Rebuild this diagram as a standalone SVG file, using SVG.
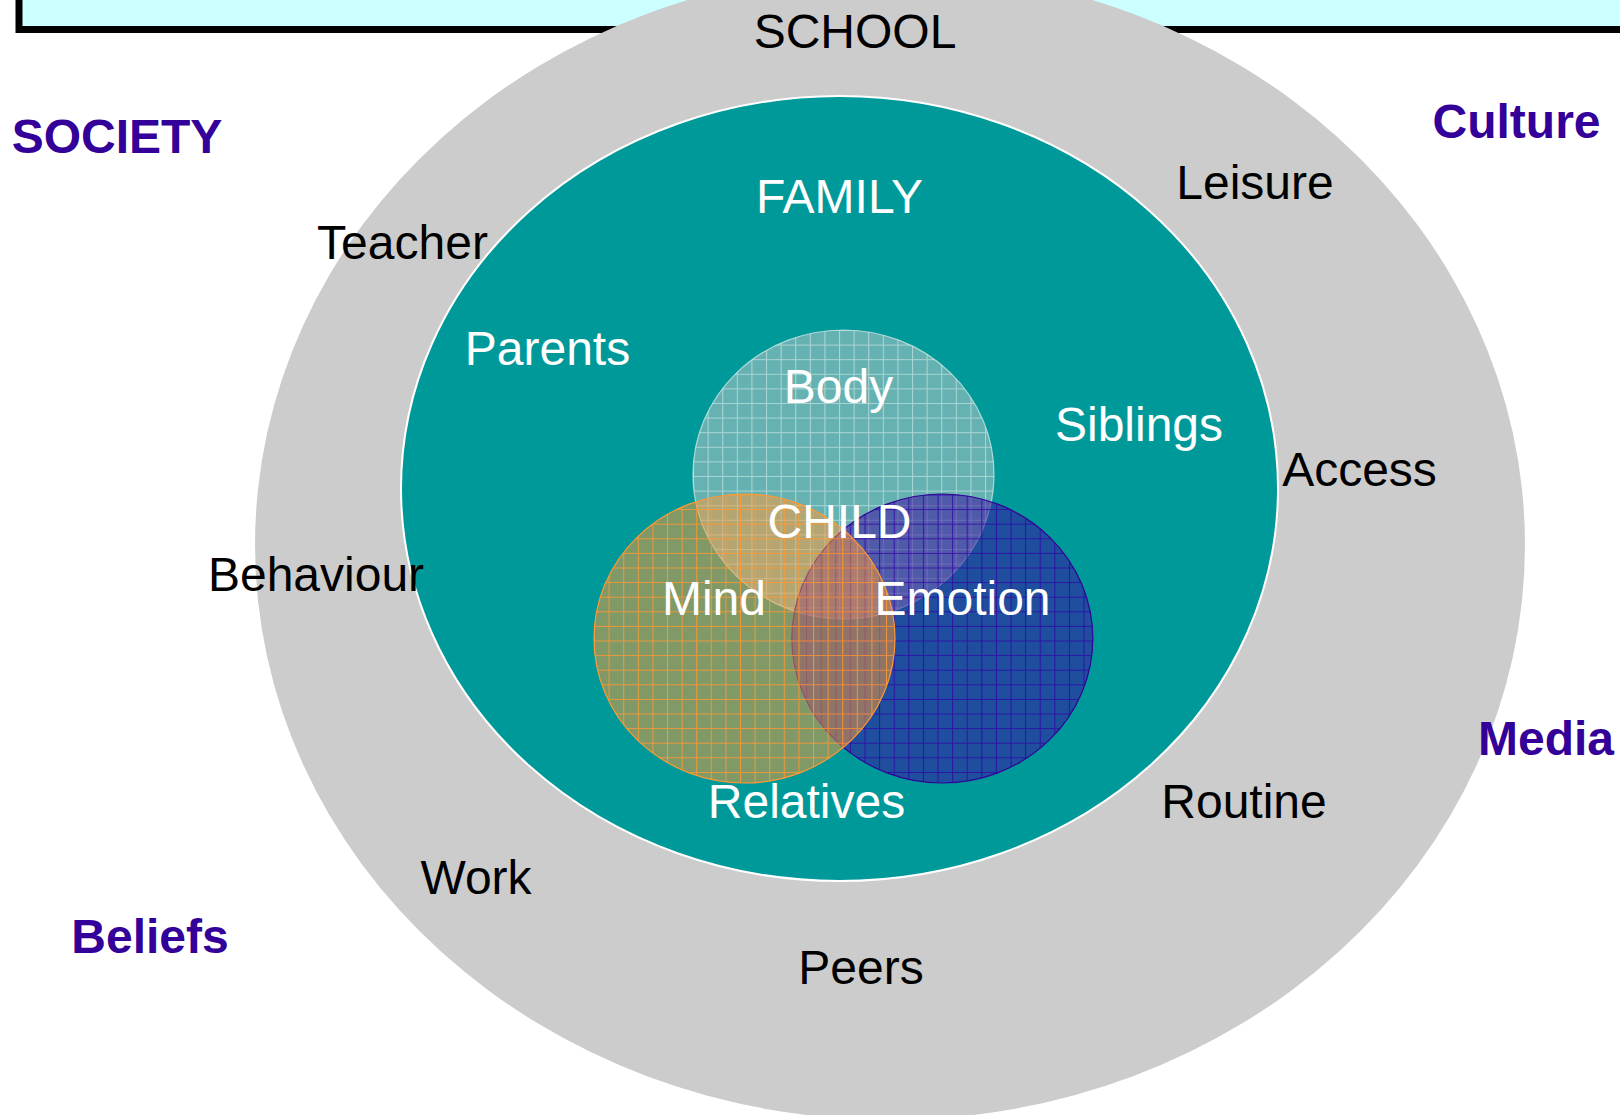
<svg xmlns="http://www.w3.org/2000/svg" width="1620" height="1115" viewBox="0 0 1620 1115">
  <defs>
    <style>
      text { font-family: "Liberation Sans", Arial, sans-serif; font-size: 48px; text-anchor: middle; }
      .outer { fill: #000000; }
      .inner { fill: #FFFFFF; }
      .ctx { fill: #330099; font-weight: bold; }
    </style>
    <!-- grid textures, one per circle, aligned to each circle's bounding box -->
    <pattern id="gridBody" patternUnits="userSpaceOnUse" x="693" y="330" width="14.6" height="14.6">
      <path d="M0 0.5 H14.6 M0.5 0 V14.6" stroke="#FFFFFF" stroke-opacity="0.45" stroke-width="1.1" fill="none"/>
    </pattern>
    <pattern id="gridMind" patternUnits="userSpaceOnUse" x="594" y="494.5" width="14.6" height="14.6">
      <path d="M0 0.5 H14.6 M0.5 0 V14.6" stroke="#FF9933" stroke-opacity="0.85" stroke-width="1.1" fill="none"/>
    </pattern>
    <pattern id="gridEmotion" patternUnits="userSpaceOnUse" x="791.5" y="494.5" width="14.6" height="14.6">
      <path d="M0 0.5 H14.6 M0.5 0 V14.6" stroke="#3300AA" stroke-opacity="0.75" stroke-width="1.1" fill="none"/>
    </pattern>
  </defs>

  <rect width="1620" height="1115" fill="#FFFFFF"/>

  <!-- title banner behind the rings -->
  <rect id="banner" x="19" y="-60" width="1700" height="89.5" fill="#CCFFFF" stroke="#000000" stroke-width="7"/>

  <g id="school">
    <ellipse cx="890" cy="545" rx="635" ry="575" fill="#CCCCCC"/>
  </g>

  <g id="family">
    <ellipse cx="839.5" cy="488.5" rx="438.5" ry="392.5" fill="#009999" stroke="#FFFFFF" stroke-width="2"/>
  </g>

  <g id="body">
    <ellipse cx="843.5" cy="474.5" rx="150.5" ry="144.5" fill="#CCCCCC" fill-opacity="0.5"/>
    <ellipse cx="843.5" cy="474.5" rx="150.5" ry="144.5" fill="url(#gridBody)" stroke="#E0EEEE" stroke-opacity="0.7" stroke-width="1.2"/>
  </g>

  <g id="emotion">
    <ellipse cx="942.3" cy="638.5" rx="150.5" ry="144.5" fill="#3A0AA2" fill-opacity="0.52"/>
    <ellipse cx="942.3" cy="638.5" rx="150.5" ry="144.5" fill="url(#gridEmotion)" stroke="#330099" stroke-width="1.2"/>
  </g>

  <g id="mind">
    <ellipse cx="744.5" cy="638.5" rx="150.5" ry="144.5" fill="#FF9933" fill-opacity="0.5"/>
    <ellipse cx="744.5" cy="638.5" rx="150.5" ry="144.5" fill="url(#gridMind)" stroke="#FF9933" stroke-width="1.2"/>
  </g>

  <!-- wider context -->
  <g id="society"><text class="ctx" x="117" y="153">SOCIETY</text></g>
  <g id="culture"><text class="ctx" x="1516.5" y="137.5">Culture</text></g>
  <g id="media"><text class="ctx" x="1546" y="755">Media</text></g>
  <g id="beliefs"><text class="ctx" x="150" y="952.5">Beliefs</text></g>

  <!-- school ring labels -->
  <g id="school-label"><text class="outer" x="855" y="47.5">SCHOOL</text></g>
  <g id="teacher"><text class="outer" x="402.5" y="258.5">Teacher</text></g>
  <g id="leisure"><text class="outer" x="1255" y="199">Leisure</text></g>
  <g id="access"><text class="outer" x="1359.5" y="485.5">Access</text></g>
  <g id="behaviour"><text class="outer" x="316" y="590.7">Behaviour</text></g>
  <g id="work"><text class="outer" x="476" y="893.5">Work</text></g>
  <g id="peers"><text class="outer" x="861" y="984">Peers</text></g>
  <g id="routine"><text class="outer" x="1244" y="818.3">Routine</text></g>

  <!-- family ring labels -->
  <g id="family-label"><text class="inner" x="839.5" y="212.5">FAMILY</text></g>
  <g id="parents"><text class="inner" x="547.5" y="364.7">Parents</text></g>
  <g id="siblings"><text class="inner" x="1139" y="441">Siblings</text></g>
  <g id="relatives"><text class="inner" x="806.5" y="818.3">Relatives</text></g>

  <!-- child core labels -->
  <g id="body-label"><text class="inner" x="838.5" y="403.3">Body</text></g>
  <g id="child"><text class="inner" x="839.5" y="538.3">CHILD</text></g>
  <g id="mind-label"><text class="inner" x="714" y="615">Mind</text></g>
  <g id="emotion-label"><text class="inner" x="962.5" y="614.5">Emotion</text></g>
</svg>
